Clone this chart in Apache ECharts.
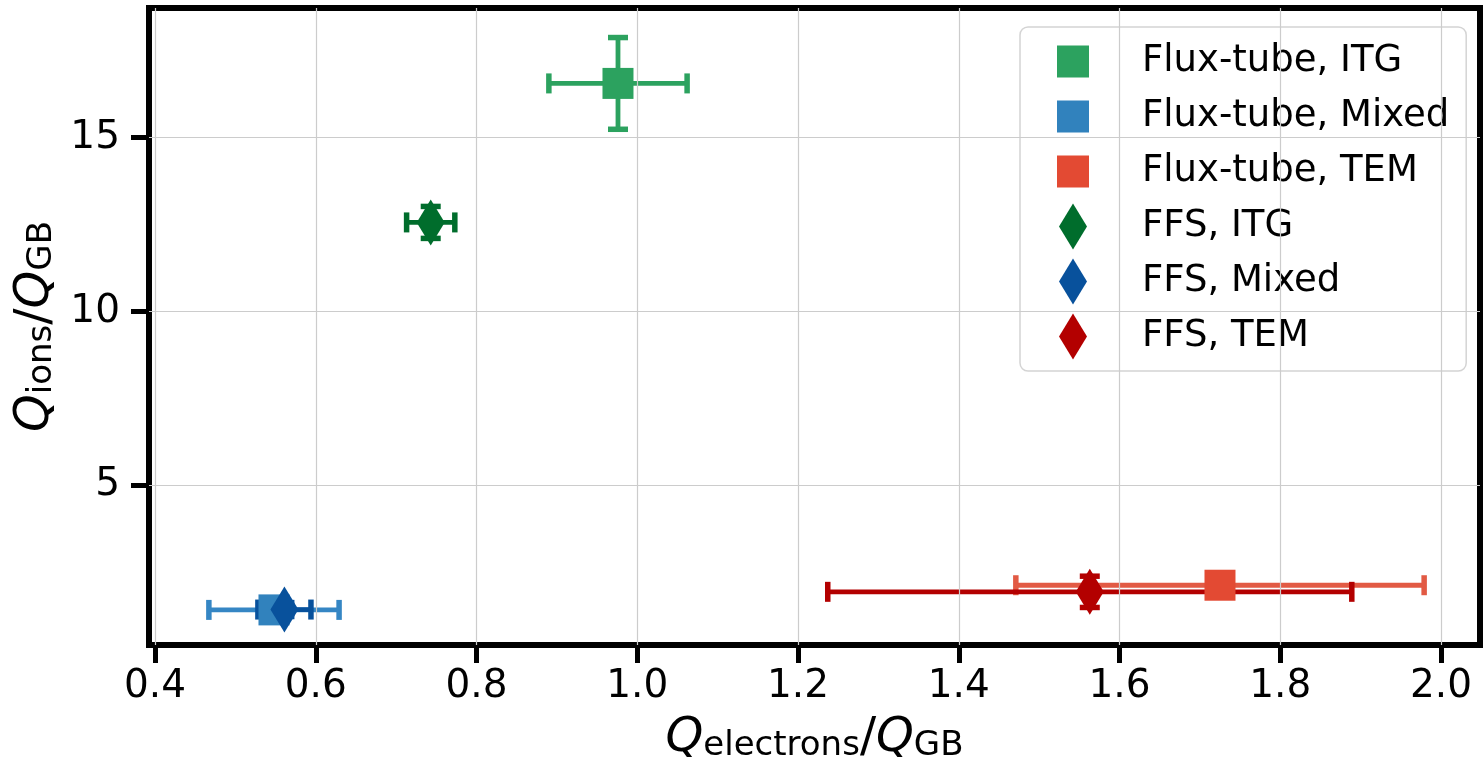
<!DOCTYPE html>
<html>
<head>
<meta charset="utf-8">
<script src="https://cdn.jsdelivr.net/npm/echarts@6/dist/echarts.min.js"></script>
<style>
html,body{margin:0;padding:0;background:#fff;}
#chart{width:1484px;height:769px;}
</style>
</head>
<body>
<div id="chart"></div>
<script>
// ---- data ----
const seriesNames = ['Flux-tube, ITG', 'Flux-tube, Mixed', 'Flux-tube, TEM', 'FFS, ITG', 'FFS, Mixed', 'FFS, TEM'];
const qElectrons    = [0.976, 0.548, 1.725, 0.743, 0.561, 1.563];
const qElectronsErr = [0.086, 0.081, 0.254, 0.030, 0.033, 0.326];
const qIons         = [16.56, 1.41, 2.12, 12.56, 1.42, 1.93];
const qIonsErr      = [1.32, 0.30, 0.30, 0.46, 0.20, 0.45];
const xTicks = [0.4, 0.6, 0.8, 1.0, 1.2, 1.4, 1.6, 1.8, 2.0];
const yTicks = [5, 10, 15];

// ---- styling ----
const colors = ['#2ca25f', '#3182bd', '#e34a33', '#006d2c', '#08519c', '#b30000'];
const barColors = ['#2ca25f', '#3586c4', '#e25a44', '#006d2c', '#08519c', '#b30000'];
const isFFS = [false, false, false, true, true, true];
const squarePath = 'path://M0,0H32V32H0Z';
const diamondPath = 'path://M14,0L28,23L14,46L0,23Z';
const FONT = 'DejaVu Sans';

const chart = echarts.init(document.getElementById('chart'), null, {renderer: 'canvas'});

function errSeries(i) {
  return {
    type: 'custom',
    name: 'err' + i,
    z: 2,
    silent: true,
    data: [[qElectrons[i], qIons[i], qElectronsErr[i], qIonsErr[i]]],
    encode: {x: 0, y: 1},
    renderItem: function (params, api) {
      const x = api.value(0), y = api.value(1), ex = api.value(2), ey = api.value(3);
      const c = api.coord([x, y]);
      const l = api.coord([x - ex, y]);
      const r = api.coord([x + ex, y]);
      const t = api.coord([x, y + ey]);
      const b = api.coord([x, y - ey]);
      const cap = 10;
      const st = {stroke: barColors[i], lineWidth: 4.8, fill: null};
      const cs = {stroke: barColors[i], lineWidth: 5.5, fill: null};
      return {
        type: 'group',
        children: [
          {type: 'line', shape: {x1: l[0], y1: c[1], x2: r[0], y2: c[1]}, style: st},
          {type: 'line', shape: {x1: c[0], y1: t[1], x2: c[0], y2: b[1]}, style: st},
          {type: 'line', shape: {x1: l[0], y1: c[1] - cap, x2: l[0], y2: c[1] + cap}, style: cs},
          {type: 'line', shape: {x1: r[0], y1: c[1] - cap, x2: r[0], y2: c[1] + cap}, style: cs},
          {type: 'line', shape: {x1: c[0] - cap, y1: t[1], x2: c[0] + cap, y2: t[1]}, style: cs},
          {type: 'line', shape: {x1: c[0] - cap, y1: b[1], x2: c[0] + cap, y2: b[1]}, style: cs}
        ]
      };
    }
  };
}

function markerSeries(i) {
  return {
    type: 'scatter',
    name: seriesNames[i],
    z: 3,
    symbol: isFFS[i] ? 'diamond' : 'rect',
    symbolSize: isFFS[i] ? [28, 46] : [31, 31],
    itemStyle: {color: colors[i], opacity: 1},
    emphasis: {disabled: true},
    data: [[qElectrons[i], qIons[i]]]
  };
}

const series = [];
// grid lines through the axes' scales
series.push({
  type: 'scatter',
  name: 'gridlines',
  z: 1,
  silent: true,
  data: [],
  markLine: {
    silent: true,
    animation: false,
    symbol: ['none', 'none'],
    label: {show: false},
    lineStyle: {color: '#cccccc', width: 1.2, type: 'solid'},
    emphasis: {disabled: true},
    data: xTicks.map(v => ({xAxis: v})).concat(yTicks.map(v => ({yAxis: v})))
  }
});
for (let i = 0; i < 6; i++) series.push(errSeries(i));
for (let i = 0; i < 6; i++) series.push(markerSeries(i));

const richName = {
  q: {fontStyle: 'italic', fontSize: 48, fontFamily: FONT, color: '#000'},
  n: {fontSize: 48, fontFamily: FONT, color: '#000'},
  s: {fontSize: 34, fontFamily: FONT, color: '#000', verticalAlign: 'bottom', lineHeight: 20}
};

const option = {
  animation: false,
  backgroundColor: '#ffffff',
  grid: {
    left: 149, right: 4, top: 8, bottom: 124,
    outerBoundsMode: 'none',
    containLabel: false,
    show: true, borderColor: '#000000', borderWidth: 6, backgroundColor: '#ffffff'
  },
  xAxis: {
    type: 'value',
    min: 0.3925, max: 2.0485,
    axisLine: {show: false},
    splitLine: {show: false},
    axisTick: {show: true, length: 18, lineStyle: {color: '#000', width: 5}, customValues: xTicks},
    axisLabel: {
      customValues: xTicks,
      formatter: v => v.toFixed(1),
      fontSize: 39, fontFamily: FONT, color: '#000', margin: 22
    },
    name: '{q|Q}{s|electrons}{n|/}{q|Q}{s|GB}',
    nameLocation: 'middle',
    nameGap: 70,
    nameTextStyle: {color: '#000', fontFamily: FONT, fontSize: 48, rich: richName}
  },
  yAxis: {
    type: 'value',
    min: 0.40, max: 18.73,
    axisLine: {show: false},
    splitLine: {show: false},
    axisTick: {show: true, length: 18, lineStyle: {color: '#000', width: 5}, customValues: yTicks},
    axisLabel: {
      customValues: yTicks,
      fontSize: 39, fontFamily: FONT, color: '#000', margin: 29
    },
    name: '{q|Q}{s|ions}{n|/}{q|Q}{s|GB}',
    nameLocation: 'middle',
    nameGap: 89,
    nameTextStyle: {color: '#000', fontFamily: FONT, fontSize: 48, rich: richName}
  },
  legend: {
    orient: 'vertical',
    left: 1020, top: 27,
    padding: [7, 17, 7, 37],
    itemWidth: 32, itemHeight: 46, itemGap: 0,
    backgroundColor: 'rgba(255,255,255,0.8)',
    borderColor: '#d4d4d4', borderWidth: 1.5, borderRadius: 8,
    selectedMode: false,
    textStyle: {fontSize: 37, lineHeight: 55, fontFamily: FONT, color: '#000', padding: [0, 0, 0, 48]},
    data: seriesNames.map((n, i) => ({name: n, icon: isFFS[i] ? diamondPath : squarePath}))
  },
  series: series
};
chart.setOption(option);
</script>
</body>
</html>
